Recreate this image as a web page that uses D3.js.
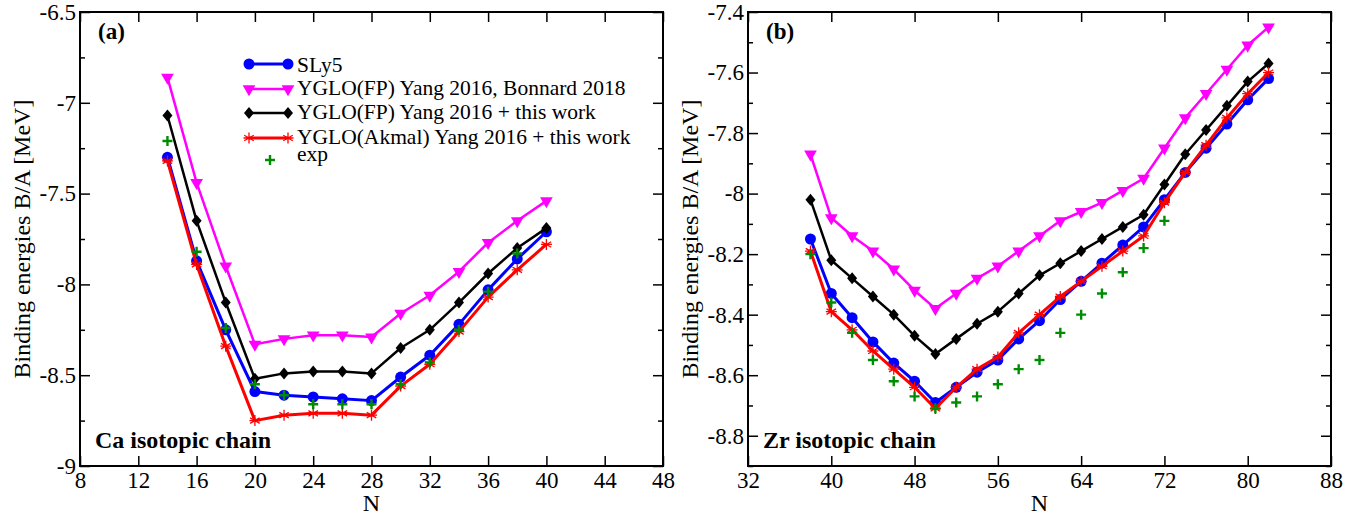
<!DOCTYPE html>
<html>
<head>
<meta charset="utf-8">
<script src="https://cdn.jsdelivr.net/npm/d3@7"></script>
<style>
  body { margin: 0; background: #fff; }
  svg { font-family: "Liberation Serif", "Times New Roman", serif; }
</style>
</head>
<body>
<div id="plot"></div>
<script>
// ---- Ca isotopic chain (panel a) ----
let caN      = [14, 16, 18, 20, 22, 24, 26, 28, 30, 32, 34, 36, 38, 40];
let caSLy5   = [-7.30, -7.87, -8.25, -8.59, -8.61, -8.62, -8.63, -8.64, -8.51, -8.39, -8.22, -8.03, -7.86, -7.71];
let caFPB    = [-6.86, -7.44, -7.90, -8.33, -8.30, -8.28, -8.28, -8.29, -8.16, -8.06, -7.93, -7.77, -7.65, -7.54];
let caFP     = [-7.07, -7.65, -8.10, -8.52, -8.49, -8.48, -8.48, -8.49, -8.35, -8.25, -8.10, -7.94, -7.80, -7.69];
let caAkmal  = [-7.32, -7.89, -8.34, -8.75, -8.72, -8.71, -8.71, -8.72, -8.56, -8.44, -8.26, -8.07, -7.92, -7.78];
let caExpN   = [14, 16, 18, 20, 22, 24, 26, 28, 30, 32, 34, 36, 38];
let caExp    = [-7.21, -7.82, -8.24, -8.55, -8.61, -8.66, -8.66, -8.66, -8.55, -8.43, -8.25, -8.04, -7.83];

// ---- Zr isotopic chain (panel b) ----
let zrN      = [38, 40, 42, 44, 46, 48, 50, 52, 54, 56, 58, 60, 62, 64, 66, 68, 70, 72, 74, 76, 78, 80, 82];
let zrSLy5   = [-8.15, -8.33, -8.41, -8.49, -8.56, -8.62, -8.69, -8.64, -8.59, -8.55, -8.48, -8.42, -8.35, -8.29, -8.23, -8.17, -8.11, -8.02, -7.93, -7.85, -7.77, -7.69, -7.62];
let zrFPB    = [-7.87, -8.08, -8.14, -8.19, -8.25, -8.32, -8.38, -8.33, -8.28, -8.24, -8.19, -8.14, -8.09, -8.06, -8.03, -7.99, -7.95, -7.85, -7.75, -7.67, -7.59, -7.51, -7.45];
let zrFP     = [-8.02, -8.22, -8.28, -8.34, -8.40, -8.47, -8.53, -8.48, -8.43, -8.39, -8.33, -8.27, -8.23, -8.19, -8.15, -8.11, -8.07, -7.97, -7.87, -7.79, -7.71, -7.63, -7.57];
let zrAkmal  = [-8.19, -8.39, -8.45, -8.52, -8.58, -8.64, -8.71, -8.64, -8.58, -8.54, -8.46, -8.40, -8.34, -8.29, -8.24, -8.19, -8.14, -8.03, -7.93, -7.84, -7.75, -7.67, -7.60];
let zrExpN   = [38, 40, 42, 44, 46, 48, 50, 52, 54, 56, 58, 60, 62, 64, 66, 68, 70, 72];
let zrExp    = [-8.20, -8.36, -8.46, -8.55, -8.62, -8.67, -8.71, -8.69, -8.67, -8.63, -8.58, -8.55, -8.46, -8.40, -8.33, -8.26, -8.18, -8.09];

// ---- ticks ----
let caXTicks = [8, 12, 16, 20, 24, 28, 32, 36, 40, 44, 48];
let caYTicks = [-9, -8.5, -8, -7.5, -7, -6.5];
let caYTickLabels = ["-9", "-8.5", "-8", "-7.5", "-7", "-6.5"];
let caYMinor = [-8.75, -8.25, -7.75, -7.25, -6.75];
let zrXTicks = [32, 40, 48, 56, 64, 72, 80, 88];
let zrYTicks = [-8.8, -8.6, -8.4, -8.2, -8, -7.8, -7.6, -7.4];
let zrYTickLabels = ["-8.8", "-8.6", "-8.4", "-8.2", "-8", "-7.8", "-7.6", "-7.4"];
let zrYMinor = [-8.9, -8.7, -8.5, -8.3, -8.1, -7.9, -7.7, -7.5];

let legendNames = ["SLy5", "YGLO(FP) Yang 2016, Bonnard 2018", "YGLO(FP) Yang 2016 + this work",
                   "YGLO(Akmal) Yang 2016 + this work", "exp"];

let svgWidth = 1370;
let svgHeight = 516;
let svg = d3.select('#plot')
            .append('svg')
                .attr('width', svgWidth)
                .attr('height', svgHeight);

// series styles (same order as legend)
let styles = [
    {color: '#0000ff', width: 3,   marker: 'circle'},
    {color: '#ff00ff', width: 2.5, marker: 'tri'},
    {color: '#000000', width: 2.5, marker: 'diamond'},
    {color: '#ff0000', width: 3,   marker: 'star'},
    {color: '#008c00', width: 0,   marker: 'plus'}
];

function drawMarker(g, type, color, cx, cy) {
    if (type === 'circle') {
        g.append('circle').attr('cx', cx).attr('cy', cy).attr('r', 5.5).attr('fill', color);
    } else if (type === 'tri') {
        g.append('path')
            .attr('d', d3.symbol(d3.symbolTriangle, 70)())
            .attr('transform', `translate(${cx},${cy}) rotate(180)`)
            .attr('fill', color);
    } else if (type === 'diamond') {
        g.append('path')
            .attr('d', `M0,-6L5,0L0,6L-5,0Z`)
            .attr('transform', `translate(${cx},${cy})`)
            .attr('fill', color);
    } else if (type === 'star') {
        let r = 5.5;
        let a = r * Math.sin(Math.PI / 3), b = r * Math.cos(Math.PI / 3);
        g.append('path')
            .attr('d', `M0,${-r}L0,${r}M${-a},${-b}L${a},${b}M${-a},${b}L${a},${-b}M${-r},0L${r},0`)
            .attr('transform', `translate(${cx},${cy})`)
            .attr('stroke', color).attr('stroke-width', 1.3).attr('fill', 'none');
    } else if (type === 'plus') {
        g.append('path')
            .attr('d', `M-5,0L5,0M0,-5L0,5`)
            .attr('transform', `translate(${cx},${cy})`)
            .attr('stroke', color).attr('stroke-width', 2.4).attr('fill', 'none');
    }
}

function panel(opt) {
    let x = d3.scaleLinear().domain(opt.xDomain).range([opt.left, opt.right]);
    let y = d3.scaleLinear().domain(opt.yDomain).range([opt.bottom, opt.top]);
    let g = svg.append('g');

    // frame
    g.append('rect')
        .attr('x', opt.left).attr('y', opt.top)
        .attr('width', opt.right - opt.left).attr('height', opt.bottom - opt.top)
        .attr('fill', 'none').attr('stroke', '#000').attr('stroke-width', 2);

    let fmtY = d => opt.yLabels[opt.yTicks.indexOf(d)];

    // axes, ticks pointing inward
    g.append('g').attr('transform', `translate(0,${opt.bottom})`)
        .call(d3.axisBottom(x).tickValues(opt.xTicks).tickSizeInner(-10).tickSizeOuter(0).tickPadding(6).tickFormat(d => d));
    g.append('g').attr('transform', `translate(0,${opt.top})`)
        .call(d3.axisTop(x).tickValues(opt.xTicks).tickSizeInner(-10).tickSizeOuter(0).tickFormat(''));
    g.append('g').attr('transform', `translate(${opt.left},0)`)
        .call(d3.axisLeft(y).tickValues(opt.yTicks).tickSizeInner(-10).tickSizeOuter(0).tickPadding(4).tickFormat(fmtY));
    g.append('g').attr('transform', `translate(${opt.right},0)`)
        .call(d3.axisRight(y).tickValues(opt.yTicks).tickSizeInner(-10).tickSizeOuter(0).tickFormat(''));
    g.append('g').attr('transform', `translate(${opt.left},0)`)
        .call(d3.axisLeft(y).tickValues(opt.yMinor).tickSizeInner(-5).tickSizeOuter(0).tickFormat(''));
    g.append('g').attr('transform', `translate(${opt.right},0)`)
        .call(d3.axisRight(y).tickValues(opt.yMinor).tickSizeInner(-5).tickSizeOuter(0).tickFormat(''));

    g.selectAll('.domain').remove();
    g.selectAll('.tick line').attr('stroke', '#000').attr('stroke-width', 1.5);
    g.selectAll('.tick text').attr('fill', '#000')
        .style('font-family', '"Liberation Serif", serif').style('font-size', '23px');

    // axis titles
    g.append('text')
        .attr('x', (opt.left + opt.right) / 2).attr('y', 511)
        .attr('text-anchor', 'middle').style('font-size', '24px').text('N');
    g.append('text')
        .attr('transform', `translate(${opt.left - 50},${(opt.top + opt.bottom) / 2}) rotate(-90)`)
        .attr('text-anchor', 'middle').style('font-size', '24px')
        .text('Binding energies B/A [MeV]');

    // series
    let line = d3.line().x(d => x(d[0])).y(d => y(d[1]));
    opt.series.forEach(function(s, i) {
        let st = styles[i];
        let pts = s.n.map((n, k) => [n, s.v[k]]);
        let sg = g.append('g');
        if (st.width > 0) {
            sg.append('path').datum(pts)
                .attr('d', line)
                .attr('fill', 'none')
                .attr('stroke', st.color)
                .attr('stroke-width', st.width)
                .attr('stroke-linejoin', 'round');
        }
        pts.forEach(p => drawMarker(sg, st.marker, st.color, x(p[0]), y(p[1])));
    });

    // panel tags
    g.append('text').attr('x', opt.left + 18).attr('y', 39)
        .style('font-size', '23px').style('font-weight', 'bold').text(opt.tag);
    g.append('text').attr('x', opt.left + 15).attr('y', 448)
        .style('font-size', '24px').style('font-weight', 'bold').text(opt.chain);
}

panel({
    left: 80, right: 663, top: 12, bottom: 466,
    xDomain: [8, 48], yDomain: [-9, -6.5],
    xTicks: caXTicks, yTicks: caYTicks, yLabels: caYTickLabels, yMinor: caYMinor,
    tag: '(a)', chain: 'Ca isotopic chain',
    series: [
        {n: caN, v: caSLy5}, {n: caN, v: caFPB}, {n: caN, v: caFP},
        {n: caN, v: caAkmal}, {n: caExpN, v: caExp}
    ]
});

panel({
    left: 748, right: 1331, top: 12, bottom: 466,
    xDomain: [32, 88], yDomain: [-8.9, -7.4],
    xTicks: zrXTicks, yTicks: zrYTicks, yLabels: zrYTickLabels, yMinor: zrYMinor,
    tag: '(b)', chain: 'Zr isotopic chain',
    series: [
        {n: zrN, v: zrSLy5}, {n: zrN, v: zrFPB}, {n: zrN, v: zrFP},
        {n: zrN, v: zrAkmal}, {n: zrExpN, v: zrExp}
    ]
});

// legend (panel a)
let legend = svg.append('g');
let rowY = [64, 89, 113, 138, 160];
let textY = [72, 95, 119, 144, 161];
legendNames.forEach(function(name, i) {
    let st = styles[i];
    let yy = rowY[i];
    if (st.width > 0) {
        legend.append('line')
            .attr('x1', 249).attr('x2', 288).attr('y1', yy).attr('y2', yy)
            .attr('stroke', st.color).attr('stroke-width', st.width);
        drawMarker(legend, st.marker, st.color, 249, yy);
        drawMarker(legend, st.marker, st.color, 288, yy);
    } else {
        drawMarker(legend, st.marker, st.color, 270, yy);
    }
    legend.append('text')
        .attr('x', 297).attr('y', textY[i])
        .style('font-size', '21.5px')
        .text(name);
});
</script>
</body>
</html>
